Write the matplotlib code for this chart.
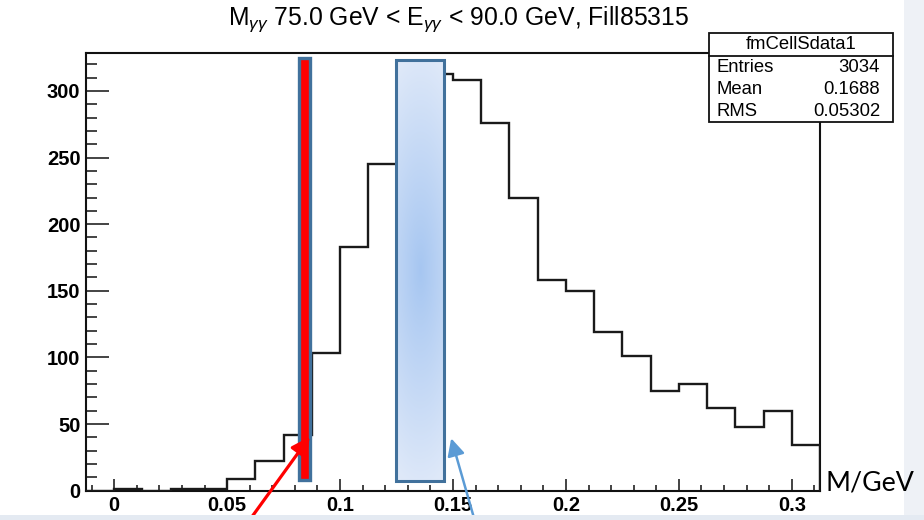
import numpy as np
import matplotlib
matplotlib.use('Agg')
import matplotlib.pyplot as plt
from matplotlib.patches import Rectangle
from matplotlib.ticker import MultipleLocator, FuncFormatter
from matplotlib.colors import to_rgb

# histogram data (bin width 0.0125 GeV)
bin_lo = -0.0125
bin_w = 0.0125
counts = [0, 1, 0, 1, 1, 9, 22, 42, 103, 183, 245, 290, 313,
          308, 276, 220, 158, 150, 119, 101, 75, 80, 62, 48, 60, 34]
edges = bin_lo + bin_w * np.arange(len(counts) + 1)

title = r'M$_{\gamma\gamma}$ 75.0 GeV < E$_{\gamma\gamma}$ < 90.0 GeV, Fill85315'
stat_name = 'fmCellSdata1'
stat_rows = [('Entries', '3034'), ('Mean', '0.1688'), ('RMS', '0.05302')]

# highlighted regions (data coords)
red_x = (0.0818, 0.0869)
red_y = (8, 325)
blue_x = (0.1247, 0.1461)
blue_y = (7, 323)

W, H = 924, 520
def fx(x):
    return x / W
def fy(y):
    return 1 - y / H

plt.rcParams['font.family'] = ['Liberation Sans', 'DejaVu Sans']
plt.rcParams['mathtext.fontset'] = 'custom'
plt.rcParams['mathtext.rm'] = 'Liberation Sans'
plt.rcParams['mathtext.it'] = 'Liberation Sans:italic'

fig = plt.figure(figsize=(W / 100, H / 100), dpi=100)
fig.patches.append(Rectangle((fx(904), 0), 1 - fx(904), 1, transform=fig.transFigure,
                             fc='#eef1f6', ec='none', zorder=0))
fig.patches.append(Rectangle((0, 0), 1, fy(515), transform=fig.transFigure,
                             fc='#e4eaf2', ec='none', zorder=0))

ax = fig.add_axes([fx(86), fy(490.7), fx(820) - fx(86), fy(52.7) - fy(490.7)])
ax.stairs(counts, edges, color='#1a1a1a', lw=1.7, zorder=3)

# blue gradient box
ny, nx = 200, 60
gx, gy = np.meshgrid(np.linspace(-1, 1, nx), np.linspace(-1, 1, ny))
r = np.clip(np.sqrt((0.45 * gx) ** 2 + gy ** 2) / 1.05, 0, 1)
c0 = np.array(to_rgb('#a6c6f1'))
c1 = np.array(to_rgb('#dfe9f9'))
img = c0[None, None, :] * (1 - r[..., None]) + c1[None, None, :] * r[..., None]
ax.imshow(img, extent=[blue_x[0], blue_x[1], blue_y[0], blue_y[1]], aspect='auto',
          interpolation='bilinear', zorder=4, origin='lower')
ax.add_patch(Rectangle((blue_x[0], blue_y[0]), blue_x[1] - blue_x[0], blue_y[1] - blue_y[0],
                       fc='none', ec='#41719c', lw=2.2, zorder=5))
# red bar
ax.add_patch(Rectangle((red_x[0], red_y[0]), red_x[1] - red_x[0], red_y[1] - red_y[0],
                       fc='red', ec='#41719c', lw=2.4, zorder=5))

ax.set_xlim(edges[0], edges[-1])
ax.set_ylim(0, 1.05 * max(counts))

ax.annotate('', xy=(0.0866, 40.5), xycoords='data', xytext=(246, -5),
            textcoords='figure pixels', annotation_clip=False,
            arrowprops=dict(arrowstyle='-|>', color='red', lw=2.3, mutation_scale=28,
                            shrinkA=0, shrinkB=0), zorder=6)
ax.annotate('', xy=(0.1492, 39.3), xycoords='data', xytext=(476, -5),
            textcoords='figure pixels', annotation_clip=False,
            arrowprops=dict(arrowstyle='-|>', color='#5b9bd5', lw=1.8, mutation_scale=26,
                            shrinkA=0, shrinkB=0), zorder=6)

for s in ax.spines.values():
    s.set_linewidth(1.5)
    s.set_color('#111111')

ax.xaxis.set_major_locator(MultipleLocator(0.05))
ax.xaxis.set_minor_locator(MultipleLocator(0.01))
ax.yaxis.set_major_locator(MultipleLocator(50))
ax.yaxis.set_minor_locator(MultipleLocator(10))
ax.xaxis.set_major_formatter(FuncFormatter(lambda v, p: '%g' % round(v, 3)))
ax.tick_params(which='both', direction='in', top=False, right=False, width=1.1, color='#111111')
ax.tick_params(axis='x', which='major', length=8.5, pad=4)
ax.tick_params(axis='x', which='minor', length=4.3)
ax.tick_params(axis='y', which='major', length=16.5, pad=4)
ax.tick_params(axis='y', which='minor', length=8)
for lab in ax.get_xticklabels() + ax.get_yticklabels():
    lab.set_fontweight('bold')
    lab.set_fontsize(14.5)

fig.text(fx(459), fy(19), title, ha='center', va='center', fontsize=17.8)
fig.text(fx(825), fy(490), 'M/GeV', ha='left', va='baseline', fontsize=19.3,
         family=['Lato', 'DejaVu Sans'])

# stats box
fig.patches.append(Rectangle((fx(709), fy(121.7)), fx(893) - fx(709), fy(33.3) - fy(121.7),
                             transform=fig.transFigure, fc='white', ec='#111111', lw=1.3, zorder=5))
fig.add_artist(plt.Line2D([fx(709), fx(893)], [fy(55.7), fy(55.7)], transform=fig.transFigure,
                          color='#111111', lw=1.3, zorder=6))
fig.text(fx(801), fy(44.5), stat_name, ha='center', va='center', fontsize=13.3, zorder=7)
for i, (k, v) in enumerate(stat_rows):
    yy = fy(68 + i * 21.5)
    fig.text(fx(717), yy, k, ha='left', va='center', fontsize=13.3, zorder=7)
    fig.text(fx(880), yy, v, ha='right', va='center', fontsize=13.3, zorder=7)

fig.savefig('out.png', dpi=100)
